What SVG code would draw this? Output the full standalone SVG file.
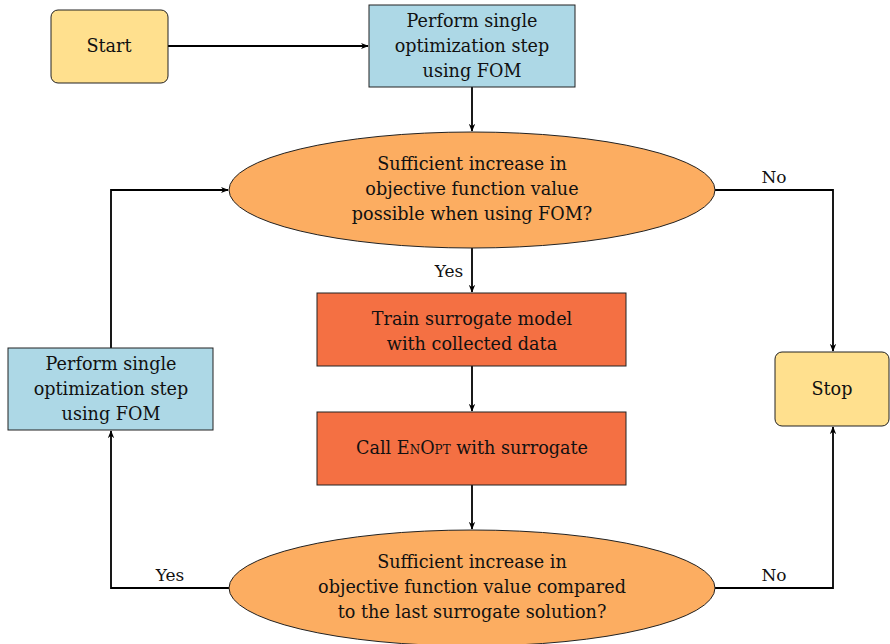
<svg xmlns="http://www.w3.org/2000/svg" width="890" height="644" viewBox="0 0 890 644">
<style>
text{font-family:"DejaVu Serif","Liberation Serif",serif;font-size:17.6px;fill:#111;text-anchor:middle}
.lbl{font-size:17px}
.c{fill:none;stroke:#000;stroke-width:1.8}
.n{stroke:#222;stroke-width:1}
.sc{font-variant:small-caps}
</style>
<defs>
<marker id="ar" viewBox="0 0 10 10" refX="9" refY="5" markerWidth="8" markerHeight="8" markerUnits="userSpaceOnUse" orient="auto">
<path d="M0,1 L10,5 L0,9 L3,5 Z" fill="#000"/>
</marker>
</defs>
<g id="connectors">
<path class="c" d="M168,46 H368" marker-end="url(#ar)"/>
<path class="c" d="M472,87 V131" marker-end="url(#ar)"/>
<path class="c" d="M472,248 V292" marker-end="url(#ar)"/>
<path class="c" d="M472,366 V411" marker-end="url(#ar)"/>
<path class="c" d="M472,485 V529" marker-end="url(#ar)"/>
<path class="c" d="M715,190 H833 V351" marker-end="url(#ar)"/>
<path class="c" d="M715,588 H833 V427" marker-end="url(#ar)"/>
<path class="c" d="M229,588 H111 V431" marker-end="url(#ar)"/>
<path class="c" d="M111,348 V190 H228" marker-end="url(#ar)"/>
<text class="lbl" x="449" y="277">Yes</text>
<text class="lbl" x="774" y="183">No</text>
<text class="lbl" x="774" y="581">No</text>
<text class="lbl" x="170" y="581">Yes</text>
</g>
<g id="start">
<rect class="n" x="51" y="10" width="117" height="73" rx="7" fill="#ffe08e"/>
<text x="109" y="52">Start</text>
</g>
<g id="fom1">
<rect class="n" x="369" y="5" width="206" height="82" fill="#add8e6"/>
<text x="472" y="27">Perform single</text>
<text x="472" y="52">optimization step</text>
<text x="472" y="77">using FOM</text>
</g>
<g id="decision1">
<ellipse class="n" cx="472" cy="190" rx="243" ry="58" fill="#fcad61"/>
<text x="472" y="170">Sufficient increase in</text>
<text x="472" y="195">objective function value</text>
<text x="472" y="220">possible when using FOM?</text>
</g>
<g id="train">
<rect class="n" x="317" y="293" width="309" height="73" fill="#f47043"/>
<text x="472" y="325">Train surrogate model</text>
<text x="472" y="350">with collected data</text>
</g>
<g id="enopt">
<rect class="n" x="317" y="412" width="309" height="73" fill="#f47043"/>
<text x="472" y="454">Call <tspan class="sc">EnOpt</tspan> with surrogate</text>
</g>
<g id="decision2">
<ellipse class="n" cx="472" cy="588" rx="243" ry="58" fill="#fcad61"/>
<text x="472" y="568">Sufficient increase in</text>
<text x="472" y="593">objective function value compared</text>
<text x="472" y="618">to the last surrogate solution?</text>
</g>
<g id="fom2">
<rect class="n" x="8" y="348" width="205" height="82" fill="#add8e6"/>
<text x="111" y="370">Perform single</text>
<text x="111" y="395">optimization step</text>
<text x="111" y="420">using FOM</text>
</g>
<g id="stop">
<rect class="n" x="775" y="352" width="114" height="74" rx="7" fill="#ffe08e"/>
<text x="832" y="395">Stop</text>
</g>
</svg>
